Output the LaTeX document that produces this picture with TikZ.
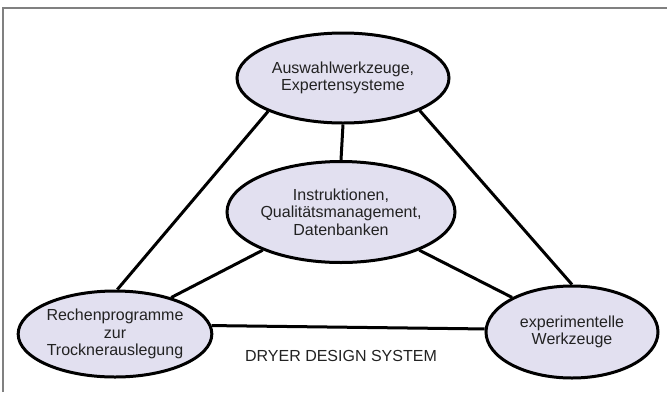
\documentclass[tikz,border=0pt]{standalone}
\usepackage{fontspec}
\setmainfont{Liberation Sans}
\usetikzlibrary{shapes.geometric}
\definecolor{ellfill}{HTML}{E2E0F0}
\definecolor{framegray}{HTML}{808080}
\definecolor{txt}{HTML}{222222}
\begin{document}
\begin{tikzpicture}[x=1pt,y=-1pt,
  ell/.style={ellipse,draw=black,line width=3pt,fill=ellfill,inner sep=0pt,
    align=center,text=txt,font=\fontsize{16}{17.5}\selectfont},
  conn/.style={line width=3pt,draw=black}]
\useasboundingbox (0,0) rectangle (667,392);
\fill[white] (0,0) rectangle (667,392);
\draw[framegray,line width=1.5pt] (3,392) -- (3,8) -- (667,8);
% nodes
\node[ell,minimum width=212pt,minimum height=90pt] (top) at (343,78) {Auswahlwerkzeuge,\\Expertensysteme};
\node[ell,minimum width=228pt,minimum height=101pt] (mid) at (341,212) {Instruktionen,\\Qualitätsmanagement,\\Datenbanken};
\node[ell,minimum width=176pt,minimum height=86pt] (left) at (115,334) {Rechenprogramme\\zur\\Trocknerauslegung};
\node[ell,minimum width=172pt,minimum height=92pt] (right) at (572,332) {experimentelle\\Werkzeuge};
\node[text=txt,font=\fontsize{16}{18}\selectfont] (lbl) at (341,356) {DRYER DESIGN SYSTEM};
% connectors
\draw[conn] (top.204) -- (left.87);
\draw[conn] (top.337) -- (right.90);
\draw[conn] (mid.206) -- (left.33);
\draw[conn] (mid.334) -- (right.150);
\draw[conn] (left.5) -- (right.178);
\draw[conn] (top.south) -- (mid.north);
\end{tikzpicture}
\end{document}
